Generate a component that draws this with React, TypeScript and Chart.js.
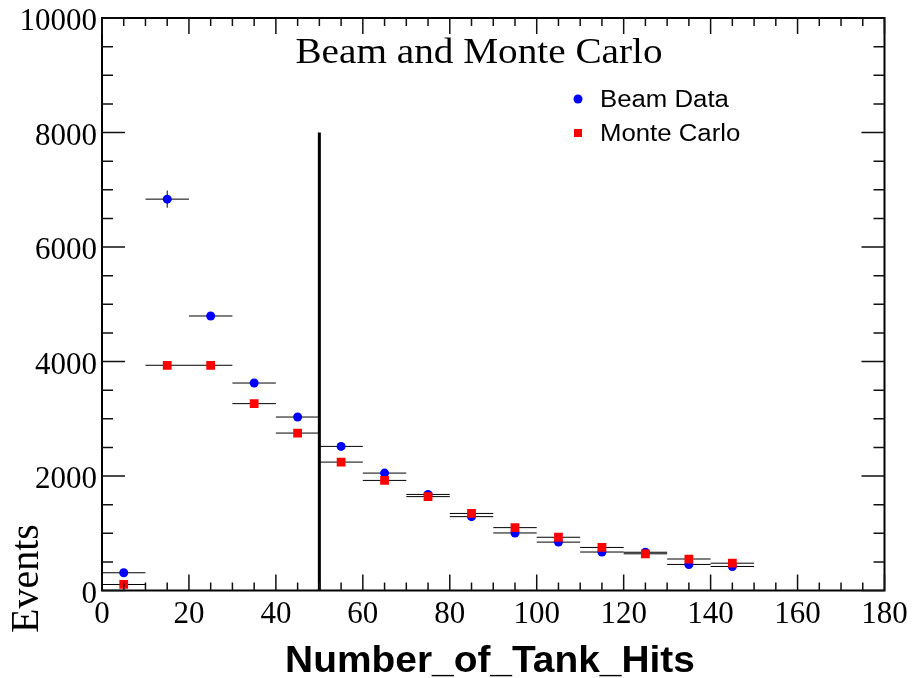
import React, { useEffect, useRef } from "react";
import { Chart, registerables } from "chart.js";

Chart.register(...registerables);

// Histogram bins of the tank-hit count (bin centres, width 10)
const BIN_CENTERS = [5, 15, 25, 35, 45, 55, 65, 75, 85, 95, 105, 115, 125, 135, 145];
const BIN_HALF_WIDTH = 5;

// Beam data: events per bin and their errors
const BEAM_EVENTS = [310, 6836, 4795, 3624, 3030, 2517, 2051, 1678, 1290, 1005, 845, 672, 668, 455, 420];
const BEAM_ERRORS = [25, 150, 60, 55, 50, 45, 40, 35, 30, 28, 26, 24, 24, 20, 20];

// Monte Carlo prediction: events per bin and their errors
const MC_EVENTS = [105, 3934, 3934, 3264, 2750, 2243, 1923, 1640, 1346, 1098, 930, 752, 641, 550, 477];
const MC_ERRORS = [12, 45, 45, 40, 38, 35, 32, 30, 28, 25, 22, 20, 18, 17, 16];

// Axis tick labels
const X_TICKS = [0, 20, 40, 60, 80, 100, 120, 140, 160, 180];
const Y_TICKS = [0, 2000, 4000, 6000, 8000, 10000];

// Selection cut drawn as a vertical line
const CUT_X = 50;
const CUT_TOP = 8000;

const TITLE = "Beam and Monte Carlo";
const X_TITLE = "Number_of_Tank_Hits";
const Y_TITLE = "Events";

const SERIF = '"Liberation Serif", "Times New Roman", serif';
const SANS = '"Liberation Sans", Arial, sans-serif';

const toPoints = (ys: number[]) => BIN_CENTERS.map((x, i) => ({ x, y: ys[i] }));

const rootStyle = {
  id: "rootStyle",
  beforeDatasetsDraw(chart: any) {
    const { ctx } = chart;
    const xs = chart.scales.x;
    const ys = chart.scales.y;
    const sets = [
      { vals: BEAM_EVENTS, errs: BEAM_ERRORS },
      { vals: MC_EVENTS, errs: MC_ERRORS },
    ];
    ctx.save();
    ctx.strokeStyle = "#000";
    ctx.lineWidth = 1;
    for (const s of sets) {
      BIN_CENTERS.forEach((c, i) => {
        const py = ys.getPixelForValue(s.vals[i]);
        const px = xs.getPixelForValue(c);
        ctx.beginPath();
        ctx.moveTo(xs.getPixelForValue(c - BIN_HALF_WIDTH), py);
        ctx.lineTo(xs.getPixelForValue(c + BIN_HALF_WIDTH), py);
        ctx.moveTo(px, ys.getPixelForValue(s.vals[i] - s.errs[i]));
        ctx.lineTo(px, ys.getPixelForValue(s.vals[i] + s.errs[i]));
        ctx.stroke();
      });
    }
    ctx.restore();
  },
  afterDatasetsDraw(chart: any) {
    const { ctx, chartArea: a } = chart;
    const xs = chart.scales.x;
    const ys = chart.scales.y;
    ctx.save();

    // Selection cut
    ctx.strokeStyle = "#000";
    ctx.lineWidth = 3;
    ctx.beginPath();
    ctx.moveTo(xs.getPixelForValue(CUT_X), ys.getPixelForValue(0));
    ctx.lineTo(xs.getPixelForValue(CUT_X), ys.getPixelForValue(CUT_TOP));
    ctx.stroke();

    // Frame
    ctx.lineWidth = 2;
    ctx.strokeRect(a.left, a.top, a.right - a.left, a.bottom - a.top);

    // Inward ticks on all four sides
    ctx.lineWidth = 1.5;
    ctx.strokeStyle = "#111";
    ctx.beginPath();
    for (let v = xs.min; v <= xs.max; v += 5) {
      const len = v % 20 === 0 ? 16 : 8;
      const px = xs.getPixelForValue(v);
      ctx.moveTo(px, a.bottom);
      ctx.lineTo(px, a.bottom - len);
      ctx.moveTo(px, a.top);
      ctx.lineTo(px, a.top + len);
    }
    for (let v = ys.min; v <= ys.max; v += 500) {
      const len = v % 2000 === 0 ? 23 : 11;
      const py = ys.getPixelForValue(v);
      ctx.moveTo(a.left, py);
      ctx.lineTo(a.left + len, py);
      ctx.moveTo(a.right, py);
      ctx.lineTo(a.right - len, py);
    }
    ctx.stroke();

    // Tick labels
    ctx.fillStyle = "#000";
    ctx.font = `31px ${SERIF}`;
    ctx.textBaseline = "alphabetic";
    ctx.textAlign = "right";
    Y_TICKS.forEach((v) => ctx.fillText(String(v), a.left - 5, ys.getPixelForValue(v) + 12));
    ctx.textAlign = "center";
    X_TICKS.forEach((v) => ctx.fillText(String(v), xs.getPixelForValue(v), a.bottom + 32.5));

    // Title
    ctx.save();
    ctx.translate(479, 63);
    ctx.scale(1.09, 1);
    ctx.font = `36px ${SERIF}`;
    ctx.textAlign = "center";
    ctx.fillText(TITLE, 0, 0);
    ctx.restore();

    // Y axis title
    ctx.save();
    ctx.translate(38, 633);
    ctx.rotate(-Math.PI / 2);
    ctx.font = `40px ${SERIF}`;
    ctx.textAlign = "left";
    ctx.fillText(Y_TITLE, 0, 0);
    ctx.restore();

    // X axis title
    ctx.save();
    ctx.translate(490, 672);
    ctx.scale(1.08, 1);
    ctx.font = `bold 36px ${SANS}`;
    ctx.textAlign = "center";
    ctx.fillText(X_TITLE, 0, 0);
    ctx.restore();

    // Legend
    const ds = chart.data.datasets;
    ctx.fillStyle = "#0000ff";
    ctx.beginPath();
    ctx.arc(578, 99, 4.5, 0, Math.PI * 2);
    ctx.fill();
    ctx.fillStyle = "#ff0000";
    ctx.fillRect(574, 129, 8, 8);
    ctx.fillStyle = "#000";
    ctx.font = `23px ${SANS}`;
    ctx.textAlign = "left";
    [
      [ds[0].label, 107],
      [ds[1].label, 141],
    ].forEach(([label, y]) => {
      ctx.save();
      ctx.translate(600, y as number);
      ctx.scale(1.12, 1);
      ctx.fillText(label as string, 0, 0);
      ctx.restore();
    });

    ctx.restore();
  },
};

export default function App() {
  const ref = useRef<HTMLCanvasElement | null>(null);

  useEffect(() => {
    if (!ref.current) return;
    const chart = new Chart(ref.current, {
      type: "scatter",
      data: {
        datasets: [
          {
            label: "Beam Data",
            data: toPoints(BEAM_EVENTS),
            backgroundColor: "#0000ff",
            borderWidth: 0,
            pointStyle: "circle",
            pointRadius: 4.5,
            order: 2,
          },
          {
            label: "Monte Carlo",
            data: toPoints(MC_EVENTS),
            backgroundColor: "#ff0000",
            borderWidth: 0,
            pointStyle: "rect",
            pointRadius: 6.2,
            order: 1,
          },
        ],
      },
      options: {
        animation: false,
        responsive: false,
        events: [],
        layout: { padding: { left: 102, right: 27.5, top: 18, bottom: 87.5 } },
        scales: {
          x: { type: "linear", min: 0, max: 180, display: false },
          y: { type: "linear", min: 0, max: 10000, display: false },
        },
        plugins: {
          legend: { display: false },
          tooltip: { enabled: false },
        },
      },
      plugins: [rootStyle],
    });
    return () => chart.destroy();
  }, []);

  return (
    <div style={{ position: "fixed", left: 0, top: 0, width: 912, height: 678, background: "#fff" }}>
      <canvas ref={ref} width={912} height={678} />
    </div>
  );
}
